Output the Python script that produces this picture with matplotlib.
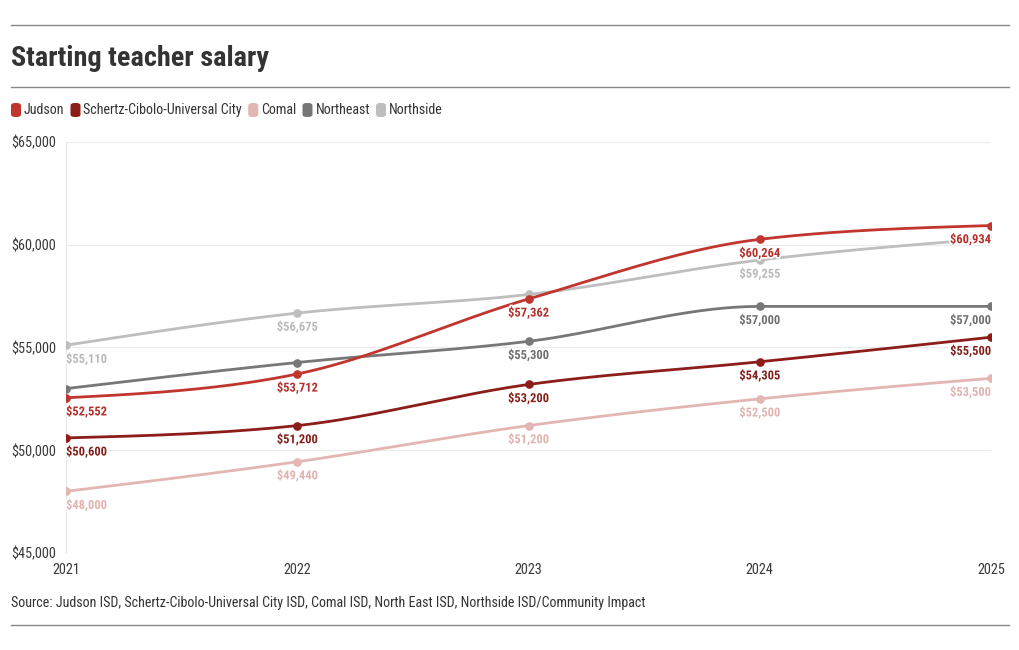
import numpy as np
import matplotlib
matplotlib.use("Agg")
import matplotlib.pyplot as plt
from matplotlib import font_manager
from matplotlib.patches import FancyBboxPatch
import matplotlib.patheffects as pe

names = {f.name for f in font_manager.fontManager.ttflist}
family = "Roboto"
for cand in ["Roboto Condensed", "Liberation Sans Narrow", "Roboto"]:
    if cand in names:
        family = cand
        break
plt.rcParams["font.family"] = [family, "DejaVu Sans"]

years = [2021, 2022, 2023, 2024, 2025]
series_names = ["Judson", "Schertz-Cibolo-Universal City", "Comal", "Northeast", "Northside"]
judson = [52552, 53712, 57362, 60264, 60934]
scuc = [50600, 51200, 53200, 54305, 55500]
comal = [48000, 49440, 51200, 52500, 53500]
northeast = [53000, 54270, 55300, 57000, 57000]
northside = [55110, 56675, 57580, 59255, 60300]
# which point labels are visible
judson_show = [True, True, True, True, True]
scuc_show = [True, True, True, True, True]
comal_show = [True, True, True, True, True]
northeast_show = [False, False, True, True, True]
northside_show = [True, True, False, True, False]

colors = ["#c1352f", "#8c1d18", "#e3b6b3", "#777777", "#bebebe"]
label_colors = ["#b5302a", "#84201b", "#e0b3b0", "#6f6f6f", "#b9b9b9"]
yticks = [45000, 50000, 55000, 60000, 65000]

data = [judson, scuc, comal, northeast, northside]
shows = [judson_show, scuc_show, comal_show, northeast_show, northside_show]


def monotone_x(x, y, n=40):
    x = np.asarray(x, float); y = np.asarray(y, float)
    m = len(x)
    h = np.diff(x); s = np.diff(y) / h
    t = np.zeros(m)
    for i in range(1, m - 1):
        h0, h1 = h[i - 1], h[i]
        s0, s1 = s[i - 1], s[i]
        p = (s0 * h1 + s1 * h0) / (h0 + h1)
        t[i] = (np.sign(s0) + np.sign(s1)) * min(abs(s0), abs(s1), 0.5 * abs(p))
    t[0] = (3 * s[0] - t[1]) / 2
    t[-1] = (3 * s[-1] - t[-2]) / 2
    xs, ys = [], []
    for i in range(m - 1):
        u = np.linspace(0, 1, n)
        hh = h[i]
        h00 = 2 * u**3 - 3 * u**2 + 1
        h10 = u**3 - 2 * u**2 + u
        h01 = -2 * u**3 + 3 * u**2
        h11 = u**3 - u**2
        yy = h00 * y[i] + h10 * hh * t[i] + h01 * y[i + 1] + h11 * hh * t[i + 1]
        xs.append(x[i] + u * hh); ys.append(yy)
    return np.concatenate(xs), np.concatenate(ys)


W, H = 1020, 650
fig = plt.figure(figsize=(W / 100, H / 100), dpi=100)
ax = fig.add_axes([66 / W, 1 - 553 / H, (991 - 66) / W, (553 - 142) / H])
ax.set_xlim(years[0], years[-1])
ax.set_ylim(45000, 65000)
ax.set_yticks(yticks)
ax.set_yticklabels([f"${v:,}" for v in yticks])
ax.set_xticks(years)
ax.set_xticklabels([str(y) for y in years])
for sp in ["top", "right", "bottom"]:
    ax.spines[sp].set_visible(False)
ax.spines["left"].set_color("#e6e6e6")
ax.spines["left"].set_linewidth(0.8)
ax.grid(axis="y", color="#ebebeb", linewidth=0.8)
ax.set_axisbelow(True)
ax.tick_params(axis="y", length=0, pad=55 * 0.72, labelsize=10.3, labelcolor="#3a3a3a")
ax.tick_params(axis="x", length=0, pad=7, labelsize=10.3, labelcolor="#3a3a3a")
for lab in ax.get_yticklabels():
    lab.set_horizontalalignment("left")

for idx in reversed(range(len(data))):
    xs, ys = monotone_x(years, data[idx])
    ax.plot(xs, ys, color=colors[idx], lw=2.0, solid_capstyle="round", zorder=3 + (5 - idx))
    ax.plot(years, data[idx], "o", color=colors[idx], ms=5.2, zorder=3 + (5 - idx))

for idx in reversed(range(len(data))):
    for j, (yr, v) in enumerate(zip(years, data[idx])):
        if not shows[idx][j]:
            continue
        if j == 0:
            ha = "left"
        elif j == len(years) - 1:
            ha = "right"
        else:
            ha = "center"
        ax.annotate(f"${v:,}", (yr, v), xytext=(0, -5.5), textcoords="offset points",
                    ha=ha, va="top", fontsize=9, fontweight="bold", color=label_colors[idx],
                    zorder=20, annotation_clip=False,
                    path_effects=[pe.withStroke(linewidth=2.5, foreground="white")])

# rules
for yy in [25, 87, 625]:
    fig.add_artist(plt.Line2D([11 / W, 1009 / W], [1 - yy / H, 1 - yy / H], color="#888888", lw=1.0))

fig.text(11 / W, 1 - 58 / H, "Starting teacher salary", fontsize=20.3, fontweight="bold",
         color="#333333", ha="left", va="center")
fig.text(11 / W, 1 - 603 / H, "Source: Judson ISD, Schertz-Cibolo-Universal City ISD, Comal ISD, North East ISD, Northside ISD/Community Impact",
         fontsize=10.1, color="#333333", ha="left", va="center")

# legend
fig.canvas.draw()
renderer = fig.canvas.get_renderer()
x = 11
ly = 110
for name, c in zip(series_names, colors):
    box = FancyBboxPatch((x / W, 1 - (ly + 7) / H), 10 / W, 14 / H,
                         boxstyle="round,pad=0,rounding_size=0.004", transform=fig.transFigure,
                         facecolor=c, edgecolor="none")
    fig.add_artist(box)
    t = fig.text((x + 13) / W, 1 - ly / H, name, fontsize=10.1, color="#333333", ha="left", va="center")
    bb = t.get_window_extent(renderer)
    x = x + 13 + bb.width + 6

fig.savefig("out.png", dpi=100)
